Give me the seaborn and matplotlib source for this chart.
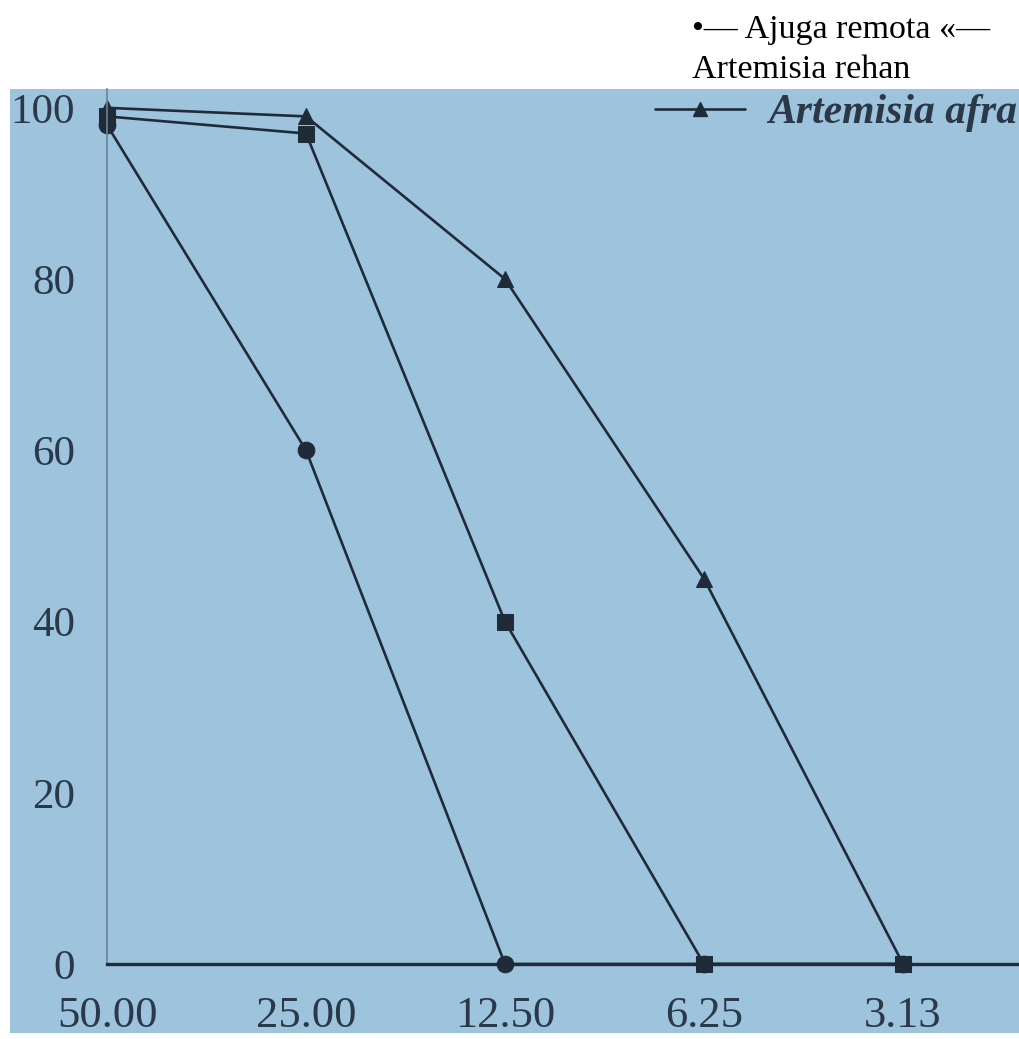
import matplotlib
matplotlib.use("Agg")
import matplotlib.pyplot as plt
from matplotlib.patches import Rectangle
from matplotlib.lines import Line2D
import seaborn as sns
import pandas as pd

# ---- data ----
concentrations = ["50.00", "25.00", "12.50", "6.25", "3.13"]
ajuga_remota = [98, 60, 0, 0, 0]
artemisia_rehan = [99, 97, 40, 0, 0]
artemisia_afra = [100, 99, 80, 45, 0]
y_ticks = [0, 20, 40, 60, 80, 100]

series_names = ["Ajuga remota", "Artemisia rehan", "Artemisia afra"]
series_values = [ajuga_remota, artemisia_rehan, artemisia_afra]

rows = []
for name, vals in zip(series_names, series_values):
    for i, (c, v) in enumerate(zip(concentrations, vals)):
        rows.append({"pos": i, "conc": c, "value": v, "series": name})
df = pd.DataFrame(rows)

# ---- style ----
sns.set_style("white")
plt.rcParams["font.family"] = ["Liberation Serif", "DejaVu Serif"]

W, H = 1019, 1039
fig = plt.figure(figsize=(W / 100, H / 100), dpi=100)
fig.patch.set_facecolor("white")

BLUE = "#9dc3dd"
INK = "#1f2b38"
TXT = "#2a3847"

# photo-like blue background region
fig.patches.append(Rectangle((10 / W, 1 - 1033 / H), 1 - 10 / W, (1033 - 89) / H,
                             transform=fig.transFigure, facecolor=BLUE,
                             edgecolor="none", zorder=-10))

left = 107 / W
bottom = 1 - 964 / H
top = 1 - 89 / H
ax = fig.add_axes([left, bottom, 1 - left, top - bottom])
ax.set_facecolor(BLUE)

markers = {"Ajuga remota": "o", "Artemisia rehan": "s", "Artemisia afra": "^"}
palette = {n: INK for n in series_names}
sns.lineplot(data=df, x="pos", y="value", hue="series", style="series",
             markers=markers, dashes=False, palette=palette, linewidth=1.9,
             markersize=12, markeredgecolor=INK, legend=False, ax=ax,
             clip_on=False)

ax.set_ylim(0, 102.2)
ax.set_xlim(0, (W - 107) / 199)
ax.set_xticks(range(len(concentrations)))
ax.set_xticklabels(concentrations)
ax.set_yticks(y_ticks)
ax.set_yticklabels([str(t) for t in y_ticks])
ax.set_xlabel("")
ax.set_ylabel("")

for s in ["top", "right"]:
    ax.spines[s].set_visible(False)
ax.spines["left"].set_color("#6f8396")
ax.spines["left"].set_linewidth(1.2)
ax.spines["bottom"].set_color(INK)
ax.spines["bottom"].set_linewidth(2.4)

ax.tick_params(axis="y", direction="out", length=13, width=2, color=INK,
               pad=10, labelsize=31, labelcolor=TXT)
ax.tick_params(axis="x", direction="out", length=11, width=2, color=INK,
               pad=12, labelsize=32, labelcolor=TXT)

# legend entry inside the plot (only the visible one)
h = Line2D([], [], color=INK, lw=1.9, marker="^", markersize=10)
leg = ax.legend([h], ["Artemisia afra"], loc="center left",
                bbox_to_anchor=(655 / W, 1 - 113 / H),
                bbox_transform=fig.transFigure, frameon=False,
                borderpad=0, borderaxespad=0, handlelength=2.16,
                handletextpad=0.55,
                prop={"family": "Liberation Serif", "style": "italic",
                      "weight": "bold", "size": 30})
for t in leg.get_texts():
    t.set_color(TXT)

# legend text above the plot
fig.text(692 / W, 1 - 38 / H, "\u2022\u2014 Ajuga remota \u00ab\u2014",
         fontsize=24.5, color="black", va="baseline", ha="left")
fig.text(692 / W, 1 - 78 / H, "Artemisia rehan",
         fontsize=24.5, color="black", va="baseline", ha="left")

fig.savefig("out.png", dpi=100, facecolor="white")
